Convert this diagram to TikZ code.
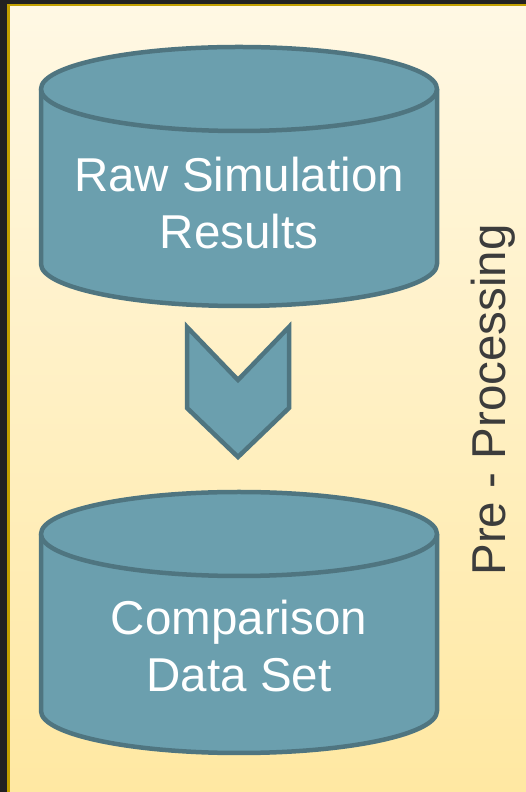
\documentclass[tikz,border=0pt]{standalone}
\usepackage{fontspec}
\setmainfont{Liberation Sans}
\definecolor{canfill}{HTML}{6B9FAE}
\definecolor{canline}{HTML}{4F7580}
\definecolor{bgtop}{HTML}{FFF8E4}
\definecolor{bgbot}{HTML}{FFE8A2}
\definecolor{frame}{HTML}{C2A000}
\definecolor{dark}{HTML}{222222}
\definecolor{labelgray}{HTML}{3C3C3C}
% database can: centre x, y of top ellipse, y of bottom ellipse
\newcommand{\datacan}[3]{%
  \fill [canfill] (#1-198,#2) -- (#1-198,#3) arc (180:360:198 and 42) -- (#1+198,#2) -- cycle;
  \draw [can] (#1-198,#2) -- (#1-198,#3) arc (180:360:198 and 42) -- (#1+198,#2);
  \draw [can,fill=canfill] (#1,#2) ellipse (198 and 42);
}
\tikzset{
  can/.style={canline,line width=4.5pt,line join=round},
  cantext/.style={text=white,align=center,font=\fontsize{47.5}{57}\selectfont},
}
\begin{document}
\begin{tikzpicture}[x=1pt,y=1pt]
  \useasboundingbox (0,0) rectangle (526,792);
  % frame and background
  \fill [dark] (0,0) rectangle (526,792);
  \fill [frame] (7,0) rectangle (526,788);
  \shade [top color=bgtop,bottom color=bgbot] (10,0) rectangle (526,785.5);
  % the two data sets
  \datacan{239}{703}{528}
  \datacan{239}{258}{81}
  \node [cantext] (raw) at (239,589) {Raw Simulation\\Results};
  \node [cantext] (cmp) at (239,146) {Comparison\\Data Set};
  % chevron
  \draw [can,fill=canfill,line join=miter] (187,465) -- (238,412) -- (289,465)
    -- (289,384) -- (238,335) -- (187,384) -- cycle;
  \node [rotate=90,text=labelgray,font=\fontsize{47.5}{57}\selectfont] (pre) at (493,392) {Pre - Processing};
\end{tikzpicture}
\end{document}
